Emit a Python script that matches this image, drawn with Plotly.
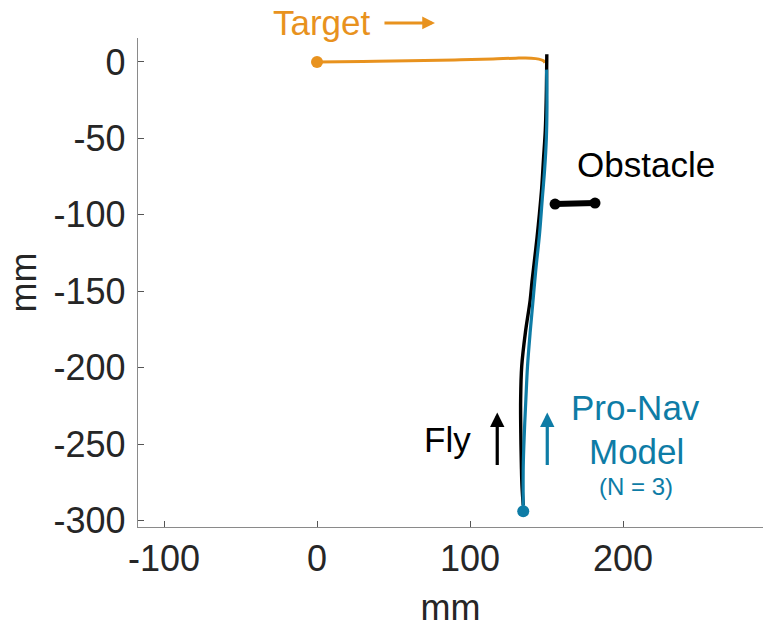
import plotly.graph_objects as go

# ---- data (mm) ----
target_x = [0, 30, 60, 90, 115, 130, 140, 145, 148, 149]
target_y = [0, 0.4, 0.8, 1.3, 2.0, 2.5, 2.5, 1.9, 0.8, -0.5]

fly_x = [134.8, 134.0, 133.6, 133.2, 133.1, 133.8, 136.2, 139.3, 140.5, 141.4, 143.8, 145.3, 146.9, 148.0, 149.2, 149.8, 150.1, 150.2]
fly_y = [-290, -278, -265, -243, -221, -199, -177, -156, -144, -136, -115, -100, -82, -64, -45, -25, -5, 5]

model_x = [134.8, 134.8, 135.5, 136.5, 137.6, 139.3, 141.2, 143.0, 145.5, 147.2, 148.8, 149.9, 150.3, 150.2, 150.0]
model_y = [-294, -265, -243, -221, -199, -177, -156, -136, -112, -90, -70, -50, -30, -12, -5]

obstacle_x = [155.6, 181.7]
obstacle_y = [-93, -92.3]

x_ticks = [-100, 0, 100, 200]
x_ticklabels = ["-100", "0", "100", "200"]
y_ticks = [0, -50, -100, -150, -200, -250, -300]
y_ticklabels = ["0", "-50", "-100", "-150", "-200", "-250", "-300"]

ORANGE = "#E8921E"
BLUE = "#0E7CA6"
BLACK = "#000000"
FONT = "Liberation Sans, Arial, sans-serif"

fig = go.Figure()

fig.add_trace(go.Scatter(x=target_x, y=target_y, mode="lines", line=dict(color=ORANGE, width=3, shape="spline"), hoverinfo="skip"))
fig.add_trace(go.Scatter(x=[target_x[0]], y=[target_y[0]], mode="markers", marker=dict(color=ORANGE, size=12), hoverinfo="skip"))

fig.add_trace(go.Scatter(x=fly_x, y=fly_y, mode="lines", line=dict(color=BLACK, width=3.4, shape="spline"), hoverinfo="skip"))
fig.add_trace(go.Scatter(x=model_x, y=model_y, mode="lines", line=dict(color=BLUE, width=3.2, shape="spline"), hoverinfo="skip"))
fig.add_trace(go.Scatter(x=[model_x[0]], y=[model_y[0]], mode="markers", marker=dict(color=BLUE, size=12), hoverinfo="skip"))

fig.add_trace(go.Scatter(x=obstacle_x, y=obstacle_y, mode="lines+markers", line=dict(color=BLACK, width=6),
                         marker=dict(color=BLACK, size=11), hoverinfo="skip"))

annotations = []
# texts
annotations.append(dict(x=3.3, y=1.0307, xref="x", yref="paper", text="Target", showarrow=False,
                        font=dict(family=FONT, size=35, color=ORANGE), xanchor="center", yanchor="middle"))
annotations.append(dict(x=77.1, y=1.0307, xref="x", yref="paper", ax=-52, ay=0, text="", showarrow=True,
                        arrowhead=2, arrowsize=0.85, arrowwidth=3, arrowcolor=ORANGE))
annotations.append(dict(x=214.7, y=-67, xref="x", yref="y", text="Obstacle", showarrow=False,
                        font=dict(family=FONT, size=35, color=BLACK), xanchor="center", yanchor="middle"))
annotations.append(dict(x=85.6, y=-247, xref="x", yref="y", text="Fly", showarrow=False,
                        font=dict(family=FONT, size=35, color=BLACK), xanchor="center", yanchor="middle"))
annotations.append(dict(x=208.4, y=-226, xref="x", yref="y", text="Pro-Nav", showarrow=False,
                        font=dict(family=FONT, size=35, color=BLUE), xanchor="center", yanchor="middle"))
annotations.append(dict(x=208.9, y=-255, xref="x", yref="y", text="Model", showarrow=False,
                        font=dict(family=FONT, size=35, color=BLUE), xanchor="center", yanchor="middle"))
annotations.append(dict(x=208.2, y=-277.6, xref="x", yref="y", text="(N = 3)", showarrow=False,
                        font=dict(family=FONT, size=24, color=BLUE), xanchor="center", yanchor="middle"))
# direction arrows
annotations.append(dict(x=117.8, y=-229.4, ax=117.8, ay=-264.7, xref="x", yref="y", axref="x", ayref="y",
                        text="", showarrow=True, arrowhead=2, arrowsize=0.9, arrowwidth=3.2, arrowcolor=BLACK))
annotations.append(dict(x=150.5, y=-229.4, ax=150.5, ay=-264.7, xref="x", yref="y", axref="x", ayref="y",
                        text="", showarrow=True, arrowhead=2, arrowsize=0.9, arrowwidth=3.2, arrowcolor=BLUE))

axis_common = dict(showgrid=False, zeroline=False, showline=True, linecolor="#8A8A8A", linewidth=1.3,
                   ticks="inside", ticklen=6, tickwidth=1, tickcolor="#555555",
                   tickfont=dict(family=FONT, size=36, color="#262626"),
                   title_font=dict(family=FONT, size=36, color="#262626"))

fig.update_layout(
    width=763, height=629,
    margin=dict(l=138, r=0, t=38, b=102),
    paper_bgcolor="white", plot_bgcolor="white",
    showlegend=False,
    annotations=annotations,
    xaxis=dict(range=[-117, 291.5], tickvals=x_ticks, ticktext=x_ticklabels,
               title=dict(text="mm", standoff=16), **axis_common),
    yaxis=dict(range=[-304.3, 15.7], tickvals=y_ticks, ticktext=y_ticklabels,
               title=dict(text="mm", standoff=5), ticklabelstandoff=4, **axis_common),
)

fig.write_html("out.html")
